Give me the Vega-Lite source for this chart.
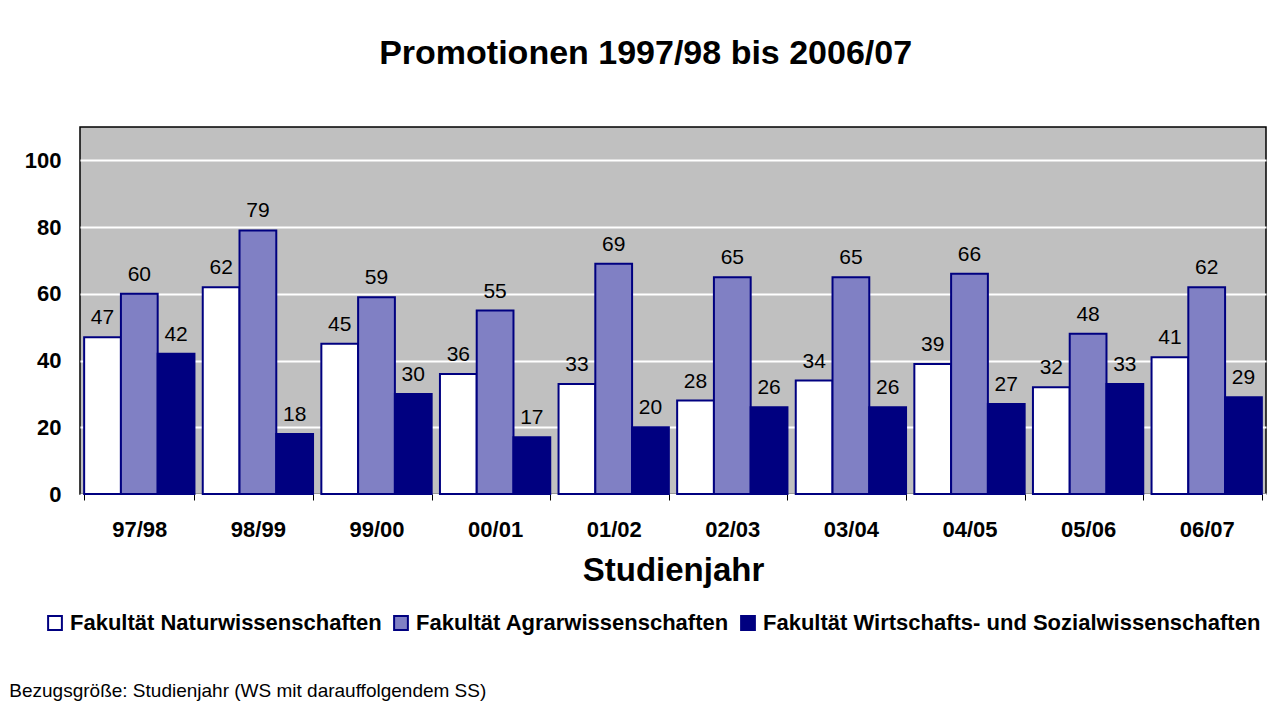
{
  "$schema": "https://vega.github.io/schema/vega-lite/v6.json",
  "background": "white",
  "padding": {"left": 8, "top": 37, "right": 4, "bottom": 3},
  "title": {"text": "Promotionen 1997/98 bis 2006/07", "font": "Liberation Sans", "fontSize": 34, "fontWeight": "bold", "color": "black", "anchor": "middle", "offset": 55, "dx": 8},
  "datasets": {
    "promo": [
      {"Jahr": "97/98", "Fakultaet": "Fakultät Naturwissenschaften", "Anzahl": 47},
      {"Jahr": "97/98", "Fakultaet": "Fakultät Agrarwissenschaften", "Anzahl": 60},
      {"Jahr": "97/98", "Fakultaet": "Fakultät Wirtschafts- und Sozialwissenschaften", "Anzahl": 42},
      {"Jahr": "98/99", "Fakultaet": "Fakultät Naturwissenschaften", "Anzahl": 62},
      {"Jahr": "98/99", "Fakultaet": "Fakultät Agrarwissenschaften", "Anzahl": 79},
      {"Jahr": "98/99", "Fakultaet": "Fakultät Wirtschafts- und Sozialwissenschaften", "Anzahl": 18},
      {"Jahr": "99/00", "Fakultaet": "Fakultät Naturwissenschaften", "Anzahl": 45},
      {"Jahr": "99/00", "Fakultaet": "Fakultät Agrarwissenschaften", "Anzahl": 59},
      {"Jahr": "99/00", "Fakultaet": "Fakultät Wirtschafts- und Sozialwissenschaften", "Anzahl": 30},
      {"Jahr": "00/01", "Fakultaet": "Fakultät Naturwissenschaften", "Anzahl": 36},
      {"Jahr": "00/01", "Fakultaet": "Fakultät Agrarwissenschaften", "Anzahl": 55},
      {"Jahr": "00/01", "Fakultaet": "Fakultät Wirtschafts- und Sozialwissenschaften", "Anzahl": 17},
      {"Jahr": "01/02", "Fakultaet": "Fakultät Naturwissenschaften", "Anzahl": 33},
      {"Jahr": "01/02", "Fakultaet": "Fakultät Agrarwissenschaften", "Anzahl": 69},
      {"Jahr": "01/02", "Fakultaet": "Fakultät Wirtschafts- und Sozialwissenschaften", "Anzahl": 20},
      {"Jahr": "02/03", "Fakultaet": "Fakultät Naturwissenschaften", "Anzahl": 28},
      {"Jahr": "02/03", "Fakultaet": "Fakultät Agrarwissenschaften", "Anzahl": 65},
      {"Jahr": "02/03", "Fakultaet": "Fakultät Wirtschafts- und Sozialwissenschaften", "Anzahl": 26},
      {"Jahr": "03/04", "Fakultaet": "Fakultät Naturwissenschaften", "Anzahl": 34},
      {"Jahr": "03/04", "Fakultaet": "Fakultät Agrarwissenschaften", "Anzahl": 65},
      {"Jahr": "03/04", "Fakultaet": "Fakultät Wirtschafts- und Sozialwissenschaften", "Anzahl": 26},
      {"Jahr": "04/05", "Fakultaet": "Fakultät Naturwissenschaften", "Anzahl": 39},
      {"Jahr": "04/05", "Fakultaet": "Fakultät Agrarwissenschaften", "Anzahl": 66},
      {"Jahr": "04/05", "Fakultaet": "Fakultät Wirtschafts- und Sozialwissenschaften", "Anzahl": 27},
      {"Jahr": "05/06", "Fakultaet": "Fakultät Naturwissenschaften", "Anzahl": 32},
      {"Jahr": "05/06", "Fakultaet": "Fakultät Agrarwissenschaften", "Anzahl": 48},
      {"Jahr": "05/06", "Fakultaet": "Fakultät Wirtschafts- und Sozialwissenschaften", "Anzahl": 33},
      {"Jahr": "06/07", "Fakultaet": "Fakultät Naturwissenschaften", "Anzahl": 41},
      {"Jahr": "06/07", "Fakultaet": "Fakultät Agrarwissenschaften", "Anzahl": 62},
      {"Jahr": "06/07", "Fakultaet": "Fakultät Wirtschafts- und Sozialwissenschaften", "Anzahl": 29}
    ]
  },
  "vconcat": [
    {
      "width": 1186,
      "height": 367,
      "title": {"text": "Bezugsgröße: Studienjahr (WS mit darauffolgendem SS)", "orient": "bottom", "anchor": "start", "frame": "bounds", "dx": -15, "font": "Liberation Sans", "fontSize": 19, "fontWeight": "normal", "color": "black", "offset": 95},
      "data": {"name": "promo"},
      "encoding": {
        "x": {
          "field": "Jahr", "type": "nominal", "sort": null,
          "scale": {"paddingInner": 0.07, "paddingOuter": 0.035},
          "axis": {"title": "Studienjahr", "labelAngle": 0, "tickBand": "extent", "tickColor": "black", "tickSize": 6, "domain": false,
                   "labelFont": "Liberation Sans", "labelFontSize": 22, "labelFontWeight": "bold", "labelColor": "black", "labelPadding": 19,
                   "titleFont": "Liberation Sans", "titleFontSize": 33, "titleFontWeight": "bold", "titleColor": "black", "titlePadding": 14}
        },
        "xOffset": {"field": "Fakultaet", "sort": ["Fakultät Naturwissenschaften", "Fakultät Agrarwissenschaften", "Fakultät Wirtschafts- und Sozialwissenschaften"], "scale": {"paddingInner": 0}},
        "y": {
          "field": "Anzahl", "type": "quantitative",
          "scale": {"domain": [0, 110], "nice": false},
          "axis": {"title": null, "values": [0, 20, 40, 60, 80, 100], "ticks": false, "domain": false, "grid": true, "gridColor": "white", "gridWidth": 2,
                   "labelFont": "Liberation Sans", "labelFontSize": 22, "labelFontWeight": "bold", "labelColor": "black", "labelPadding": 19}
        }
      },
      "layer": [
        {
          "mark": {"type": "bar", "stroke": "#000080", "strokeWidth": 2},
          "encoding": {
            "color": {
              "field": "Fakultaet", "type": "nominal", "title": null,
              "scale": {"domain": ["Fakultät Naturwissenschaften", "Fakultät Agrarwissenschaften", "Fakultät Wirtschafts- und Sozialwissenschaften"], "range": ["#ffffff", "#8080c4", "#000080"]},
              "legend": {"orient": "none", "legendX": -36, "legendY": 485, "direction": "horizontal", "symbolType": "square", "symbolSize": 190, "symbolStrokeColor": "#000080", "symbolStrokeWidth": 2, "symbolOpacity": 1,
                         "labelFont": "Liberation Sans", "labelFontSize": 22, "labelFontWeight": "bold", "labelColor": "black", "labelLimit": 700, "columnPadding": 8, "labelOffset": 4}
            }
          }
        },
        {
          "mark": {"type": "text", "baseline": "alphabetic", "dy": -13, "font": "Liberation Sans", "fontSize": 21, "color": "black"},
          "encoding": {"text": {"field": "Anzahl", "type": "quantitative"}}
        }
      ]
    }
  ],
  "config": {
    "view": {"fill": "#c0c0c0", "stroke": "black", "strokeWidth": 1.5},
    "bar": {"opacity": 1}
  }
}
